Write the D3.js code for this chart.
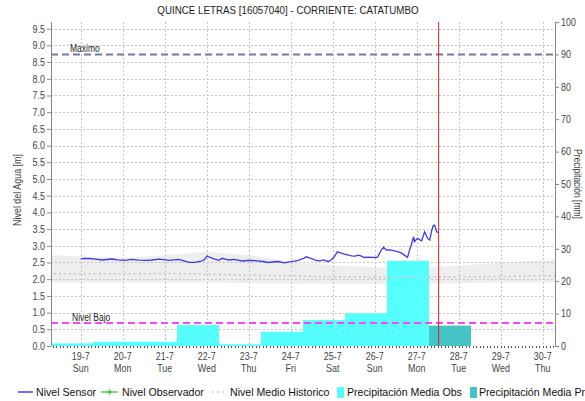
<!DOCTYPE html>
<html>
<head>
<meta charset="utf-8">
<script src="https://cdn.jsdelivr.net/npm/d3@7"></script>
<style>
body { margin: 0; background: #fff; }
svg text { font-family: "Liberation Sans", Arial, sans-serif; fill: #333; }
</style>
</head>
<body>
<script>
// chart data
var title = "QUINCE LETRAS [16057040] - CORRIENTE: CATATUMBO";

var dayLabels = ["19-7", "20-7", "21-7", "22-7", "23-7", "24-7", "25-7", "26-7", "27-7", "28-7", "29-7", "30-7"];
var weekLabels = ["Sun", "Mon", "Tue", "Wed", "Thu", "Fri", "Sat", "Sun", "Mon", "Tue", "Wed", "Thu"];

// sensor level: hours after 19-7 00:00, level [m]
var sensorHours = [0, 1.7, 4.6, 8.6, 12.0, 14.9, 17.8, 21.2, 25.2, 29.2, 33.2, 37.2, 40.7, 44.7, 47.5, 50.4,
    53.3, 56.1, 59.0, 61.9, 65.3, 68.2, 70.5, 72.2, 73.9, 76.2, 79.0, 80.8, 83.1, 84.8, 87.6, 89.9, 92.2,
    95.1, 97.9, 100.8, 104.2, 107.1, 110.0, 112.8, 116.3, 119.1, 122.0, 124.3, 126.0, 127.7, 128.9, 130.6,
    131.8, 134.0, 136.3, 137.5, 138.6, 140.3, 141.5, 143.2, 144.9, 146.6, 148.9, 150.7, 153.0, 154.7, 156.9,
    158.7, 160.4, 162.1, 164.4, 166.1, 168.4, 169.6, 170.7, 171.8, 173.0, 174.7, 176.4, 177.6, 179.9, 181.6,
    183.3, 185.0, 186.7, 187.9, 189.0, 190.2, 190.7, 191.9, 192.9, 193.6, 194.8, 196.5, 198.2, 199.4, 200.5,
    201.4, 202.2, 203.4, 204.5];
var sensorLevel = [2.60, 2.62, 2.62, 2.60, 2.575, 2.59, 2.605, 2.58, 2.565, 2.595, 2.57, 2.565, 2.575, 2.60, 2.585, 2.565,
    2.58, 2.59, 2.55, 2.505, 2.505, 2.53, 2.575, 2.695, 2.65, 2.61, 2.565, 2.625, 2.59, 2.575, 2.595, 2.57, 2.545,
    2.56, 2.565, 2.55, 2.53, 2.50, 2.515, 2.53, 2.49, 2.52, 2.54, 2.56, 2.60, 2.63, 2.67, 2.64,
    2.62, 2.57, 2.55, 2.56, 2.58, 2.55, 2.53, 2.58, 2.67, 2.82, 2.78, 2.75, 2.72, 2.70, 2.69,
    2.72, 2.69, 2.65, 2.66, 2.655, 2.65, 2.66, 2.77, 2.88, 2.955, 2.87, 2.88, 2.87, 2.84, 2.82,
    2.78, 2.72, 2.65, 2.87, 3.05, 3.27, 3.12, 3.20, 3.22, 3.18, 3.15, 3.42, 3.22, 3.17, 3.45,
    3.60, 3.62, 3.42, 3.39];

// historic level per day (00:00), days of July
var histDays = [18, 19, 20, 21, 22, 23, 24, 25, 26, 27, 28, 29, 30, 31];
var histMean = [2.17, 2.16, 2.16, 2.17, 2.15, 2.12, 2.10, 2.07, 2.06, 2.06, 2.07, 2.08, 2.10, 2.11];
var histMax = [2.74, 2.68, 2.64, 2.72, 2.82, 2.72, 2.52, 2.42, 2.36, 2.34, 2.40, 2.50, 2.56, 2.60];
var histMin = [1.90, 1.90, 1.90, 1.90, 1.90, 1.88, 1.87, 1.86, 1.86, 1.87, 1.88, 1.90, 1.90, 1.90];

// daily precipitation [mm], day runs 07:00 to 07:00
var precipObsDays = [18, 19, 20, 21, 22, 23, 24, 25, 26];
var precipObs = [0.8, 1.3, 1.3, 6.5, 0.5, 4.4, 8.0, 10.1, 26.3];
var precipProDays = [27];
var precipPro = [6.3];

var nivelMaximo = 8.73;
var nivelBajo = 0.69;
var nowHours = 204.5; // after 19-7 00:00

var legendItems = ["Nivel Sensor", "Nivel Observador", "Nivel Medio Historico", "Precipitación Media Obs", "Precipitación Media Pronosticada"];

function dayDate(d, h) { return new Date(2020, 6, d, h || 0); }
function hourDate(h) { return new Date(new Date(2020, 6, 19).getTime() + h * 3600000); }

// squeeze text a bit, the original uses a narrow face
function narrow(sel){
    sel.each(function(){
        var len = this.getComputedTextLength();
        d3.select(this).attr("textLength", len * 0.85).attr("lengthAdjust", "spacingAndGlyphs");
    });
}

var width = 585, height = 401;
var x0 = 51, x1 = 555, y0 = 22, y1 = 346;

var svg = d3.select("body").append("svg")
    .attr("width", width)
    .attr("height", height);

var x = d3.scaleTime()
    .domain([dayDate(18, 7), dayDate(30, 7)])
    .range([x0, x1]);
var yL = d3.scaleLinear().domain([0, 9.7]).range([y1, y0]);
var yR = d3.scaleLinear().domain([0, 100]).range([y1, y0]);

svg.append("clipPath").attr("id", "plot")
    .append("rect").attr("x", x0).attr("y", y0).attr("width", x1 - x0).attr("height", y1 - y0);

var g = svg.append("g").attr("clip-path", "url(#plot)");

// historic band
var hist = histDays.map(function(d, i){ return {t: dayDate(d), mean: histMean[i], max: histMax[i], min: histMin[i]}; });
g.append("path")
    .datum(hist)
    .attr("fill", "#eeeeee")
    .attr("d", d3.area().x(function(d){ return x(d.t); }).y0(function(d){ return yL(d.min); }).y1(function(d){ return yL(d.max); }));

// grid
var tickDates = dayLabels.map(function(l, i){ return dayDate(19 + i); });
g.selectAll(".vgrid").data(tickDates).enter().append("line")
    .attr("x1", function(d){ return Math.round(x(d)) + 0.5; })
    .attr("x2", function(d){ return Math.round(x(d)) + 0.5; })
    .attr("y1", y0).attr("y2", y1)
    .attr("stroke", "#c4c4c4").attr("stroke-dasharray", "2,2");
var levelTicks = d3.range(1, 20).map(function(i){ return i * 0.5; });
g.selectAll(".hgrid").data(levelTicks).enter().append("line")
    .attr("x1", x0).attr("x2", x1)
    .attr("y1", function(d){ return Math.round(yL(d)) + 0.5; })
    .attr("y2", function(d){ return Math.round(yL(d)) + 0.5; })
    .attr("stroke", "#c4c4c4").attr("stroke-dasharray", "2,2");

// precipitation bars
function bars(days, vals, color){
    g.selectAll(null).data(days).enter().append("rect")
        .attr("x", function(d){ return x(dayDate(d, 7)); })
        .attr("width", function(d){ return x(dayDate(d + 1, 7)) - x(dayDate(d, 7)); })
        .attr("y", function(d, i){ return yR(vals[i]); })
        .attr("height", function(d, i){ return y1 - yR(vals[i]); })
        .attr("fill", color);
}
bars(precipObsDays, precipObs, "#55ffff");
bars(precipProDays, precipPro, "#44c4c4");

// historic mean
g.append("path")
    .datum(hist)
    .attr("fill", "none")
    .attr("stroke", "#cccccc")
    .attr("stroke-width", 2)
    .attr("stroke-dasharray", "2,3")
    .attr("d", d3.line().x(function(d){ return x(d.t); }).y(function(d){ return yL(d.mean); }));

// sensor line
g.append("path")
    .datum(sensorHours)
    .attr("fill", "none")
    .attr("stroke", "#3a3af0")
    .attr("stroke-width", 1.3)
    .attr("d", d3.line().x(function(d){ return x(hourDate(d)); }).y(function(d, i){ return yL(sensorLevel[i]); }));

// threshold lines
g.append("line")
    .attr("x1", x0).attr("x2", x1)
    .attr("y1", yL(nivelMaximo)).attr("y2", yL(nivelMaximo))
    .attr("stroke", "#6b7ba6").attr("stroke-width", 2).attr("stroke-dasharray", "7,4");
g.append("line")
    .attr("x1", x0).attr("x2", x1)
    .attr("y1", yL(nivelBajo)).attr("y2", yL(nivelBajo))
    .attr("stroke", "#ff44ff").attr("stroke-width", 2).attr("stroke-dasharray", "7,4");
svg.append("text").attr("x", 70).attr("y", yL(nivelMaximo) - 2)
    .style("font-size", "10px").style("fill", "#222").text("Maximo").call(narrow);
svg.append("text").attr("x", 72).attr("y", yL(nivelBajo) - 2)
    .style("font-size", "10px").style("fill", "#222").text("Nivel Bajo").call(narrow);

// now line
g.append("line")
    .attr("x1", x(hourDate(nowHours))).attr("x2", x(hourDate(nowHours)))
    .attr("y1", y0).attr("y2", y1)
    .attr("stroke", "#e02020").attr("stroke-width", 1);

// axes
var leftAxis = svg.append("g")
    .attr("transform", "translate(" + x0 + ",0)")
    .call(d3.axisLeft(yL).tickValues(d3.range(0, 20).map(function(i){ return i * 0.5; }))
        .tickFormat(d3.format(".1f")).tickSize(4).tickPadding(2));
var rightAxis = svg.append("g")
    .attr("transform", "translate(" + x1 + ",0)")
    .call(d3.axisRight(yR).ticks(10).tickSize(4).tickPadding(2));
[leftAxis, rightAxis].forEach(function(a){
    a.select(".domain").attr("stroke", "#888").attr("d", "M0.5," + y0 + "V" + y1);
    a.selectAll(".tick line").attr("stroke", "#888");
    a.selectAll("text").style("font-family", null).style("font-size", "10.5px").style("fill", "#444").call(narrow);
});

// bottom axis: minor ticks + day labels
svg.append("g").selectAll("line")
    .data(d3.timeHour.every(2).range(x.domain()[0], x.domain()[1]))
    .enter().append("line")
    .attr("x1", function(d){ return Math.round(x(d)) + 0.5; })
    .attr("x2", function(d){ return Math.round(x(d)) + 0.5; })
    .attr("y1", y1).attr("y2", y1 + 2)
    .attr("stroke", "#555");
var xl = svg.append("g").selectAll("g").data(tickDates).enter().append("g")
    .attr("transform", function(d){ return "translate(" + x(d) + ",0)"; });
xl.append("text").attr("y", 360).attr("text-anchor", "middle")
    .style("font-size", "10.5px").style("fill", "#444")
    .text(function(d, i){ return dayLabels[i]; }).call(narrow);
xl.append("text").attr("y", 372).attr("text-anchor", "middle")
    .style("font-size", "10.5px").style("fill", "#444")
    .text(function(d, i){ return weekLabels[i]; }).call(narrow);

// titles
svg.append("text").attr("x", 288).attr("y", 14).attr("text-anchor", "middle")
    .style("font-size", "11.5px").style("fill", "#222").text(title).call(narrow);
svg.append("text").attr("transform", "translate(21,190) rotate(-90)").attr("text-anchor", "middle")
    .style("font-size", "10.5px").style("fill", "#444").text("Nivel del Agua [m]").call(narrow);
svg.append("text").attr("transform", "translate(574,184) rotate(90)").attr("text-anchor", "middle")
    .style("font-size", "10px").style("fill", "#444").text("Precipitación [mm]").call(narrow);

// legend
var ly = 392;
var lg = svg.append("g").style("font-size", "10.6px");
lg.append("line").attr("x1", 18).attr("x2", 33).attr("y1", ly).attr("y2", ly).attr("stroke", "#2222ff").attr("stroke-width", 1.3);
lg.append("line").attr("x1", 101).attr("x2", 118).attr("y1", ly).attr("y2", ly).attr("stroke", "#33cc33").attr("stroke-width", 1.3);
lg.append("path").attr("d", "M107," + ly + "h5M109.5," + (ly - 2.5) + "v5").attr("stroke", "#33cc33").attr("stroke-width", 1.3);
lg.append("line").attr("x1", 212).attr("x2", 227).attr("y1", ly).attr("y2", ly).attr("stroke", "#cccccc").attr("stroke-width", 1.5).attr("stroke-dasharray", "2,3");
lg.append("rect").attr("x", 337).attr("y", ly - 5).attr("width", 7).attr("height", 11).attr("fill", "#55ffff");
lg.append("rect").attr("x", 470).attr("y", ly - 5).attr("width", 7).attr("height", 11).attr("fill", "#44c4c4");
var lx = [36, 122, 230, 347, 479];
lg.selectAll("text").data(legendItems).enter().append("text")
    .attr("x", function(d, i){ return lx[i]; })
    .attr("y", ly + 4)
    .style("fill", "#111")
    .text(function(d){ return d; });
</script>
</body>
</html>
